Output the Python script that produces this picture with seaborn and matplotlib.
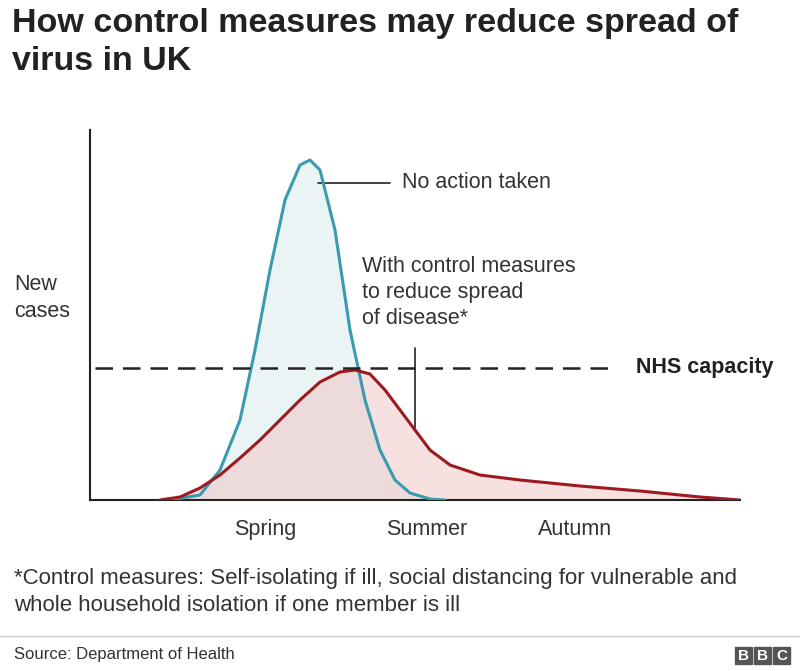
import numpy as np
import matplotlib
matplotlib.use("Agg")
import matplotlib.pyplot as plt
import seaborn as sns
from matplotlib.patches import Rectangle

sns.set_style("white")
plt.rcParams['font.family'] = ['Liberation Sans', 'DejaVu Sans']

# curve readings (x in chart px, height above baseline in px)
no_action_x = [170, 200, 220, 240, 255, 270, 285, 300, 310, 320, 335, 350, 365, 380, 395, 410, 430, 445]
no_action_y = [0, 5, 30, 80, 150, 230, 300, 335, 340, 330, 270, 170, 100, 50, 20, 7, 1, 0]
control_x = [160, 180, 200, 220, 240, 260, 280, 300, 320, 340, 355, 370, 385, 400, 415, 430, 450, 480, 520, 580, 640, 700, 740]
control_y = [0, 3, 12, 25, 42, 60, 80, 100, 118, 128, 130, 126, 110, 90, 70, 50, 35, 25, 20, 14, 9, 3, 0]
nhs_capacity = 132
seasons = ["Spring", "Summer", "Autumn"]
season_x = [265, 427, 575]

W, H = 800, 671
fig = plt.figure(figsize=(8, 6.71), dpi=100)
ax = fig.add_axes([90 / W, (H - 500) / H, 650 / W, 370 / H])
ax.set_xlim(90, 740)
ax.set_ylim(0, 370)

blue = "#3a9bb0"
red = "#9b1b20"
ax.fill_between(no_action_x, no_action_y, color="#eaf4f5", zorder=1)
ax.fill_between(control_x, control_y, color="#f0c8c8", alpha=0.55, zorder=2)
sns.lineplot(x=no_action_x, y=no_action_y, ax=ax, color=blue, lw=2.2, zorder=3)
sns.lineplot(x=control_x, y=control_y, ax=ax, color=red, lw=2.2, zorder=4)
ax.plot([95, 615], [nhs_capacity, nhs_capacity], ls=(0, (7, 4)), color="#222222", lw=1.8, zorder=5)

for s in ["top", "right"]:
    ax.spines[s].set_visible(False)
for s in ["left", "bottom"]:
    ax.spines[s].set_color("#222222")
    ax.spines[s].set_linewidth(1.5)
ax.set_xticks(season_x)
ax.set_xticklabels(seasons, fontsize=15.5, color="#333333")
ax.tick_params(axis="x", length=0, pad=14)
ax.set_yticks([])

# annotations
ax.plot([318, 390], [317, 317], color="#222222", lw=1.2)
ax.text(402, 317, "No action taken", fontsize=15.5, color="#333333", va="center")
ax.plot([415, 415], [152, 70], color="#222222", lw=1.2)
ax.text(362, 244, "With control measures\nto reduce spread\nof disease*", fontsize=15.5,
        color="#333333", va="top", linespacing=1.3)
ax.text(636, nhs_capacity, "NHS capacity", fontsize=15.5, fontweight="bold", color="#222222", va="center")

fig.text(12 / W, 1 - 8 / H, "How control measures may reduce spread of\nvirus in UK", fontsize=24.5,
         fontweight="bold", color="#222222", va="top", linespacing=1.3)
fig.text(14 / W, 1 - 298 / H, "New\ncases", fontsize=15.5, color="#333333", va="center", linespacing=1.4)
fig.text(14 / W, 1 - 592 / H,
         "*Control measures: Self-isolating if ill, social distancing for vulnerable and\nwhole household isolation if one member is ill",
         fontsize=16, color="#333333", va="center", linespacing=1.35)
fig.add_artist(plt.Line2D([0, 1], [1 - 636 / H] * 2, color="#cccccc", lw=1))
fig.text(14 / W, 1 - 655 / H, "Source: Department of Health", fontsize=12, color="#333333", va="center")
for i, ch in enumerate("BBC"):
    x0 = 735 + i * 19
    fig.add_artist(Rectangle((x0 / W, 1 - 664 / H), 17 / W, 17 / H, color="#555555"))
    fig.text((x0 + 8.5) / W, 1 - 655.5 / H, ch, fontsize=11, fontweight="bold", color="white",
             ha="center", va="center")

fig.savefig("out.png", dpi=100)
